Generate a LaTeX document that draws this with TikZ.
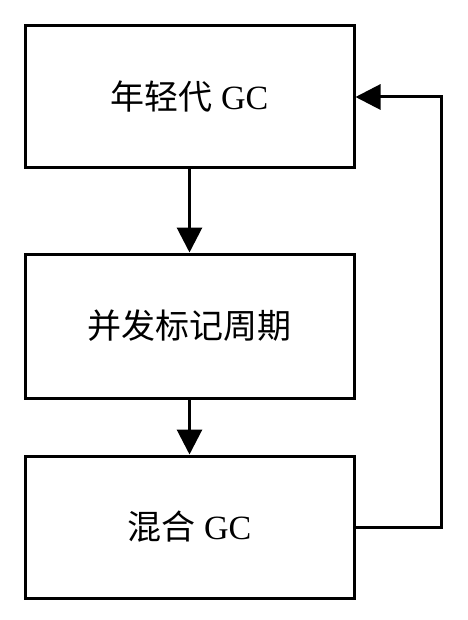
\documentclass[tikz,border=0pt]{standalone}
\usepackage{fontspec}
\setmainfont{Liberation Serif}
\newfontfamily\cjk{Noto Sans CJK SC}
\usepackage{tikz}
\usetikzlibrary{positioning}
\usetikzlibrary{arrows.meta}

\begin{document}
\begin{tikzpicture}[x=1pt,y=-1pt,font=\fontsize{34}{40}\selectfont,
      gc box/.style={rectangle,draw=black,line width=3pt,minimum
        width=329pt,minimum height=142pt,align=center},
      flow/.style={line width=3pt,-{Triangle[width=25pt,length=25pt]}}
      ]
      \useasboundingbox (0,0) rectangle (467,620);
      \node[gc box] (young) at (189.5,97) {{\cjk 年轻代} GC};
      \node[gc box,minimum height=144pt,below=83pt of young] (mark) {{\cjk 并发标记周期}};
      \node[gc box,below=55pt of mark] (mixed) {{\cjk 混合} GC};
      \coordinate[right=86pt of mixed.east] (turn);
      \draw[flow] (young) -- (mark);
      \draw[flow] (mark) -- (mixed);
      \draw[flow] (mixed.east) -- (turn) |- (young.east);
    \end{tikzpicture}
\end{document}
